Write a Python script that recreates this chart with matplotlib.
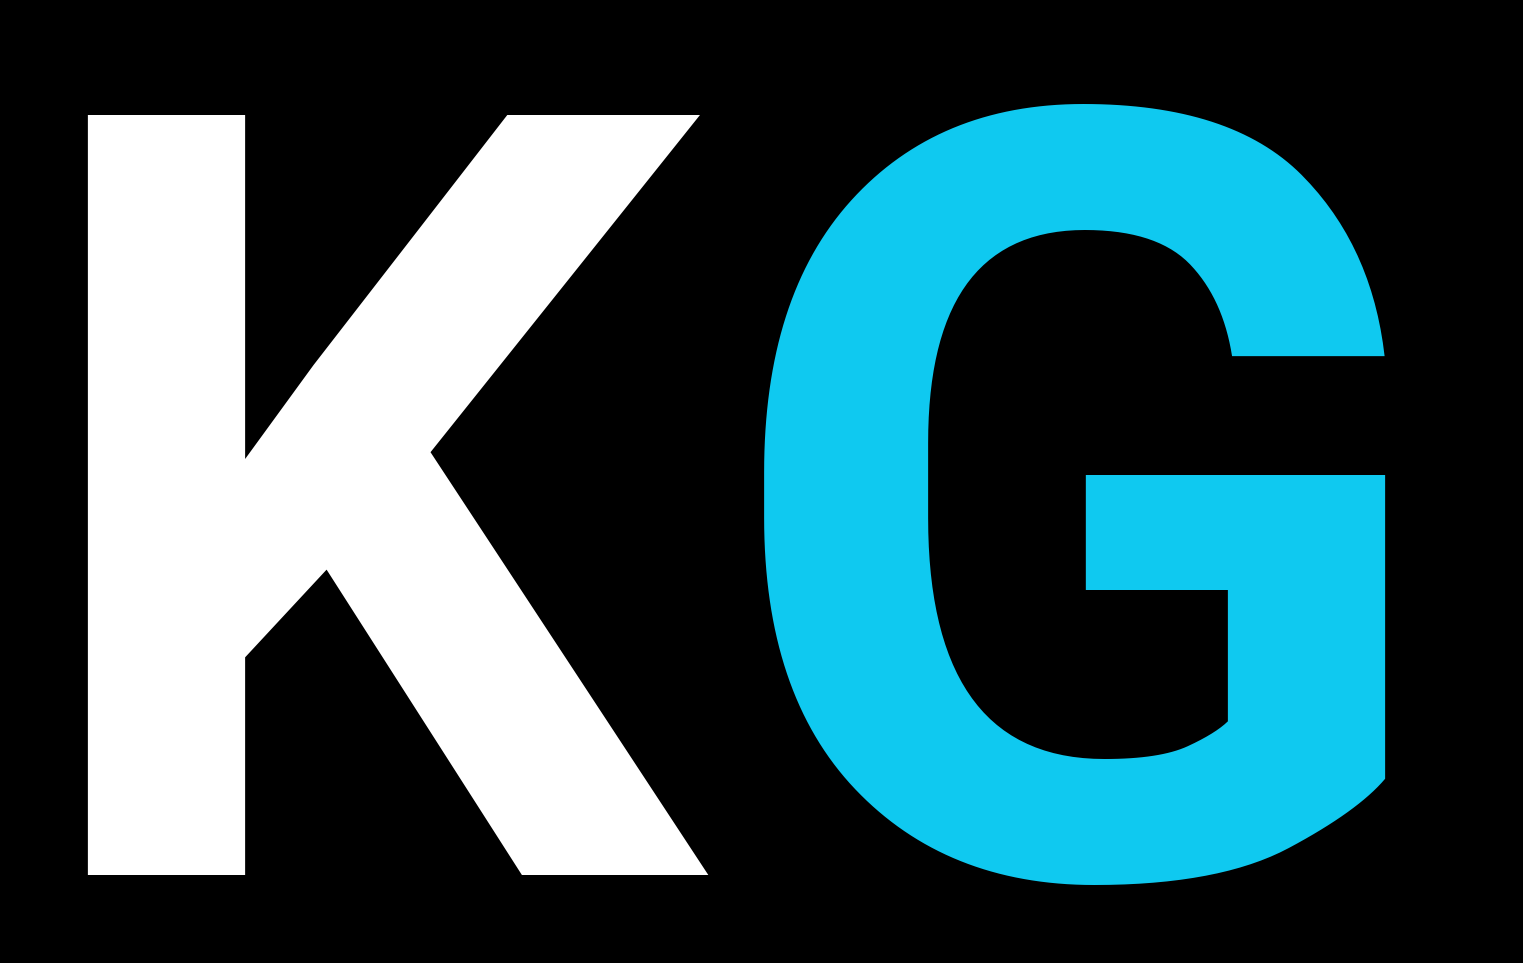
import matplotlib.pyplot as plt

letters = ["K", "G"]
letter_colors = ["#FFFFFF", "#0FC9F0"]
letter_x = [19, 715]          # left anchor of each letter, px
baseline_y = 875              # baseline, px from top

fig = plt.figure(figsize=(15.23, 9.63), dpi=100, facecolor="black")
ax = fig.add_axes([0, 0, 1, 1])
ax.set_facecolor("black")
ax.set_xlim(0, 1523)
ax.set_ylim(963, 0)
ax.axis("off")

for ch, col, x in zip(letters, letter_colors, letter_x):
    ax.text(x, baseline_y, ch, color=col, fontsize=770, fontfamily="Roboto",
            fontweight="bold", ha="left", va="baseline")

fig.savefig("out.png", dpi=100, facecolor="black")
